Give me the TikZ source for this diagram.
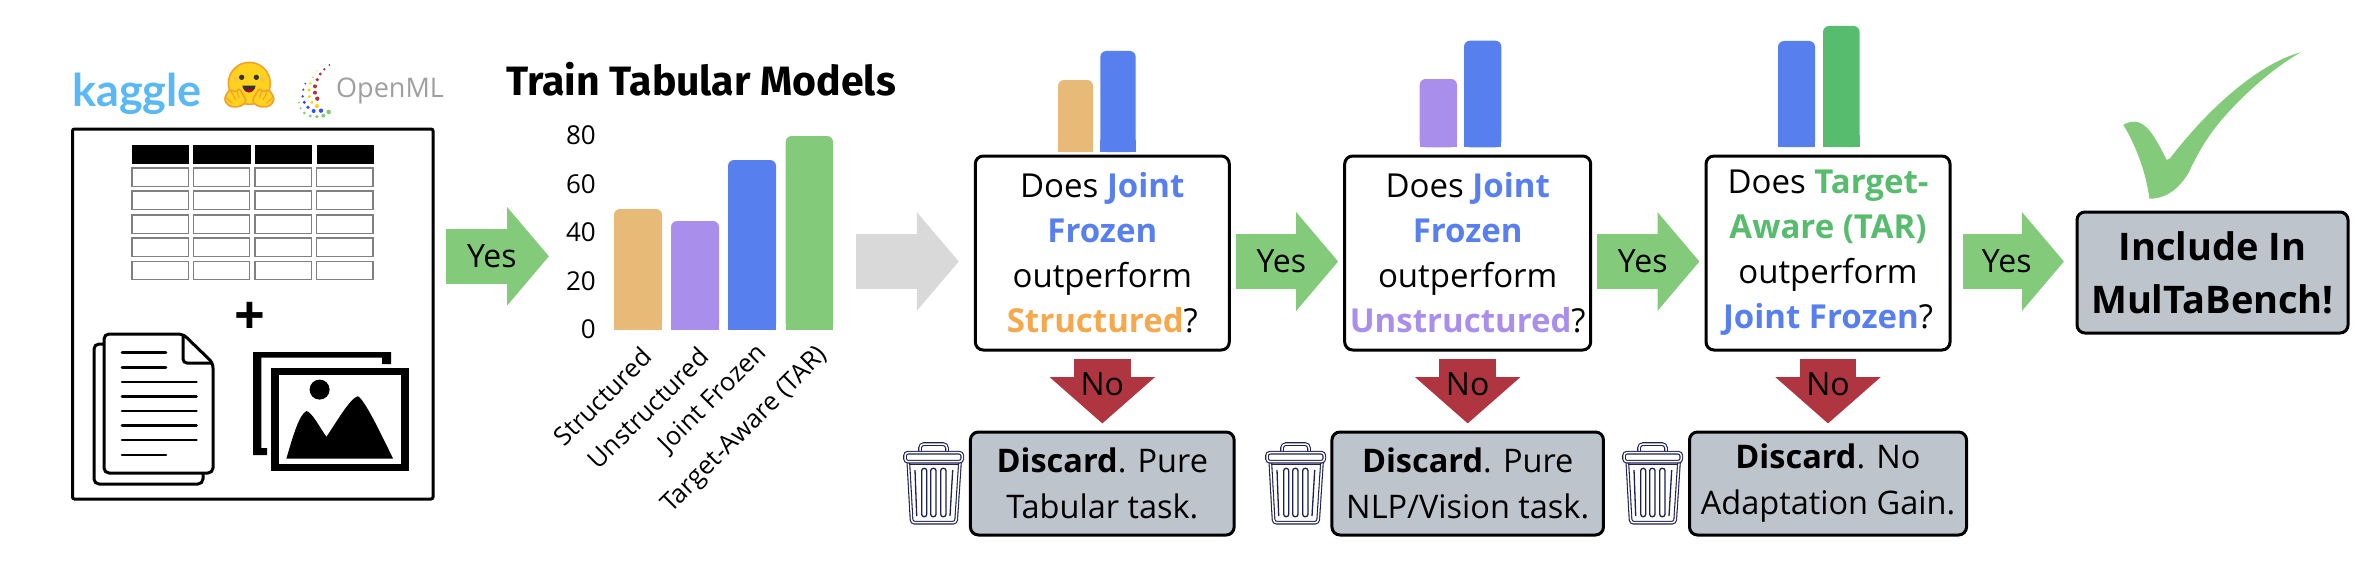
\documentclass[tikz,border=0pt]{standalone}
\usepackage{fontspec}
\setmainfont{Open Sans}
\newfontfamily\titlefont{Fira Sans}
\newfontfamily\kagglefont{Lato}
\usetikzlibrary{arrows.meta}

\definecolor{YesGreen}{HTML}{83CB7B}
\definecolor{TarGreen}{HTML}{57BC6E}
\definecolor{NoRed}{HTML}{AF3640}
\definecolor{FlowGray}{HTML}{D9D9D9}
\definecolor{BoxGray}{HTML}{BDC4CC}
\definecolor{BarOrange}{HTML}{E8BA78}
\definecolor{TextOrange}{HTML}{F5A94C}
\definecolor{BarPurple}{HTML}{A98EEC}
\definecolor{BarBlue}{HTML}{587FEE}
\definecolor{BinNavy}{HTML}{1E2050}
\definecolor{KaggleBlue}{HTML}{5AB8F5}
\definecolor{HugYellow}{HTML}{FFD21E}
\definecolor{HugOrange}{HTML}{F59E2C}

\tikzset{
  qbox/.style={draw=black,line width=3pt,rounded corners=8pt,fill=white,inner sep=0pt,
    minimum height=194pt,align=center,font=\fontsize{33}{45}\selectfont},
  dropbox/.style={draw=black,line width=3pt,rounded corners=8pt,fill=BoxGray,inner sep=0pt,
    minimum height=103pt,align=center,font=\fontsize{32.5}{46}\selectfont},
  yesflow/.style={color=YesGreen,text=black,line width=54.5pt,-{Triangle[length=42pt,width=96.5pt]},
    shorten <=5pt,shorten >=5pt,font=\fontsize{32}{40}\selectfont},
  noflow/.style={color=NoRed,text=black,line width=56.5pt,-{Triangle[length=46.3pt,width=102.5pt]},
    shorten <=7.3pt,shorten >=7pt,font=\fontsize{32}{40}\selectfont},
  tick/.style={anchor=east,inner sep=0pt,font=\fontsize{26}{30}\selectfont},
  barlabel/.style={anchor=east,rotate=45,inner sep=0pt,font=\fontsize{25.5}{28}\selectfont},
  cell/.style={draw=gray,line width=1.2pt,fill=white},
  docline/.style={draw=black,line width=3pt,line join=round,fill=white},
  textline/.style={draw=black,line width=2.6pt,line cap=round},
  binline/.style={draw=BinNavy,line width=1.1pt,double=white,double distance=1.5pt},
  trashbin/.pic={
    \path[binline,rounded corners=4pt] (-14,8.7) -- (-14,0) -- (13,0) -- (13,8.7);
    \path[binline,fill=white,rounded corners=3pt] (-25.7,17.7) -- (-22.3,78.7) -- (22,78.7) -- (26,17.7);
    \path[binline,fill=white,rounded corners=3pt] (-29,8.7) rectangle (28.3,17.7);
    \draw[BinNavy,line width=1.3pt] (-25,20.5) -- (25.3,20.5);
    \draw[BinNavy,line width=1.3pt] (-19,26) -- (-17.3,72) (18.7,26) -- (16,72);
    \draw[BinNavy,line width=1.3pt,rounded corners=2.4pt] (-12.3,24.3) rectangle (-7.3,72.7);
    \draw[BinNavy,line width=1.3pt,rounded corners=2.4pt] (-3.3,24.3) rectangle (2,72.7);
    \draw[BinNavy,line width=1.3pt,rounded corners=2.4pt] (6.7,24.3) rectangle (12,72.7);
  }
}

\newcommand{\chartbar}[5]{\fill[#1,rounded corners=6pt] (#2,#5) rectangle (#3,#4);
  \fill[#1] (#2,#5) rectangle (#3,{#5-12});}

\begin{document}
\begin{tikzpicture}[x=1pt,y=-1pt,node distance=300pt]

  \useasboundingbox (0,0) rectangle (2374,578);

  % sources
  \node[inner sep=0pt,text=KaggleBlue,font=\kagglefont\bfseries\fontsize{45}{50}\selectfont] (Kaggle) at (137,94) {kaggle};
  \node[inner sep=0pt,text=gray!75,anchor=west,font=\fontsize{27}{30}\selectfont] (OpenML) at (336,91) {OpenML};

  \begin{scope}[shift={(215,55)},scale=.3333]
    \foreach \side/\off in {1/0,-1/206} {
      \draw[HugOrange,fill=HugYellow,line width=1.5pt,rounded corners=2pt,shift={(\off,0)},xscale=\side]
        (30,125) -- (45,103) -- (62,112) -- (72,100) -- (88,125) -- (95,140) -- (75,155) -- (45,155) -- (30,140) -- cycle;
    }
    \draw[HugOrange,fill=HugYellow,line width=1.5pt] (103,85) circle (63);
    \foreach \side/\off in {1/0,-1/206} {
      \draw[HugOrange,fill=HugYellow,line width=1.5pt,rounded corners=2pt,shift={(\off,0)},xscale=\side]
        (30,125) -- (45,103) -- (62,112) -- (72,100) -- (88,125) -- (95,140) -- (75,155) -- (45,155) -- (30,140) -- cycle;
      \draw[HugOrange,line width=1pt,shift={(\off,0)},xscale=\side]
        (48,108) -- (62,135) (66,106) -- (72,130) (34,128) -- (52,145);
    }
    \fill[HugOrange!70] (62,72) circle (6) (142,72) circle (6);
    \fill[black!80] (80,67) circle (8) (124,67) circle (8);
    \fill[black!80] (82,92) .. controls (85,118) and (118,118) .. (122,92) -- cycle;
    \fill[red!75!black] (90,107) .. controls (95,114) and (108,114) .. (114,107) .. controls (108,101) and (95,101) .. (90,107) -- cycle;

    \foreach \dx/\dy/\dr in {343/30/3,328/43/4,316/57/5,307/74/5.5,300/94/6,300/113/6,307/131/6.5}
      \fill[NoRed] (\dx,\dy) circle (\dr);
    \foreach \dx/\dy/\dr in {306/47/2,294/67/3,286/85/4,282/105/5,283/125/5,291/142/5,306/153/6}
      \fill[yellow!70!orange] (\dx,\dy) circle (\dr);
    \foreach \dx/\dy/\dr in {271/86/3,265/104/3.5,263/124/4,268/142/5,279/157/5.5,296/168/6,318/167/6.5}
      \fill[BarBlue!60!blue] (\dx,\dy) circle (\dr);
    \foreach \dx/\dy/\dr in {252/143/3,257/160/3.5,268/174/4.5,286/183/5,306/185/5.5,325/182/6,341/171/7}
      \fill[YesGreen] (\dx,\dy) circle (\dr);
  \end{scope}

  % data box
  \node[draw=black,line width=3pt,rounded corners=2pt,minimum width=360.5pt,minimum height=370pt,inner sep=0pt] (DataBox) at (252.75,314) {};

  \foreach \cx in {132,193.3,255,316.5} {
    \fill[black] (\cx,144.5) rectangle ++(57.2,19.2);
    \foreach \cy in {168,191,215,238,261.3}
      \draw[cell] (\cx,\cy) rectangle ++(56.5,18.5);
  }
  \node[inner sep=0pt,font=\bfseries\fontsize{54}{58}\selectfont] (Plus) at (250.4,318) {+};

  % text pages
  \path[docline,rounded corners=5pt] (104,344) -- (94,344) -- (94,484) -- (203,484) -- (203,470);
  \path[docline,rounded corners=5pt] (183,334) -- (104,334) -- (104,473) -- (213,473) -- (213,363) -- cycle;
  \draw[black,line width=3pt,rounded corners=4pt] (183,334) -- (183,363) -- (213,363);
  \foreach \ly in {352.7,454.8} \draw[textline] (122,\ly) -- (166,\ly);
  \draw[textline] (122,367.5) -- (166,367.5);
  \foreach \ly in {382,396.6,411,425.4,440} \draw[textline] (122,\ly) -- (196.5,\ly);

  % image frames
  \fill[black] (253,352) -- (391,352) -- (391,364) -- (382,364) -- (382,357.6) -- (261.4,357.6) -- (261.4,448) -- (267,448) -- (267,455) -- (253,455) -- cycle;
  \fill[black] (271,367.5) rectangle (409,471);
  \fill[white] (279,374.5) rectangle (400.7,463.7);
  \fill[black] (319.6,389.6) circle (10);
  \fill[black] (286.4,458.5) .. controls (293,436) and (299,415) .. (306.4,411) .. controls (312,412) and (320,428) .. (326.4,436.8)
    .. controls (336,423) and (350,398) .. (357.9,396.2) .. controls (365,400) and (382,436) .. (393,458.5) -- cycle;

  % bar chart
  \node[inner sep=0pt,font=\titlefont\bfseries\fontsize{41}{44}\selectfont] (TrainTitle) at (701,79) {Train Tabular Models};
  \foreach \val/\ty in {80/135.7,60/184,40/232,20/281,0/329}
    \node[tick] (Tick\val) at (596,\ty) {\val};
  \chartbar{BarOrange}{614}{662}{209}{329.7}
  \chartbar{BarPurple}{671}{719}{221}{329.7}
  \chartbar{BarBlue}{728}{776}{160}{329.7}
  \chartbar{YesGreen}{785.7}{833}{136}{329.7}
  \node[barlabel] (LabelS) at (647,352) {Structured};
  \node[barlabel] (LabelU) at (704,352) {Unstructured};
  \node[barlabel] (LabelJ) at (763,349) {Joint Frozen};
  \node[barlabel] (LabelT) at (824,352) {Target-Aware (TAR)};
  \coordinate (ChartIn) at (554,256.3);
  \coordinate (ChartOut) at (851,261.5);

  % questions
  \node[qbox,minimum width=254pt] (QStruct) at (1102.3,253) {Does {\bfseries\color{BarBlue}Joint}\\{\bfseries\color{BarBlue}Frozen}\\outperform\\{\bfseries\color{TextOrange}Structured}?};
  \node[qbox,minimum width=246pt,node distance=365.4pt] (QUnstruct) [right of=QStruct] {Does {\bfseries\color{BarBlue}Joint}\\{\bfseries\color{BarBlue}Frozen}\\outperform\\{\bfseries\color{BarPurple}Unstructured}?};
  \node[qbox,minimum width=244pt,node distance=360.3pt] (QTar) [right of=QUnstruct] {Does {\bfseries\color{TarGreen}Target-}\\{\bfseries\color{TarGreen}Aware (TAR)}\\outperform\\{\bfseries\color{BarBlue}Joint Frozen}?};
  \node[draw=black,line width=3pt,rounded corners=8pt,fill=BoxGray,inner sep=0pt,minimum width=271pt,minimum height=121pt,align=center,
    font=\bfseries\fontsize{38}{53}\selectfont] (Include) at (2212.5,272.5) {Include In\\MulTaBench!};

  \node[dropbox,minimum width=263.7pt,node distance=230.5pt] (DropStruct) [below of=QStruct] {{\bfseries Discard}. Pure\\Tabular task.};
  \node[dropbox,minimum width=271.5pt,node distance=230.5pt] (DropUnstruct) [below of=QUnstruct] {{\bfseries Discard}. Pure\\NLP/Vision task.};
  \node[dropbox,minimum width=277pt,node distance=230.5pt] (DropTar) [below of=QTar] {{\bfseries Discard}. No\\Adaptation Gain.};

  \pic at (934,444) {trashbin};
  \pic at (1296,444) {trashbin};
  \pic at (1653,444) {trashbin};

  % small bars over the questions
  \chartbar{BarOrange}{1058}{1093}{80}{152}
  \chartbar{BarBlue}{1100.3}{1135.7}{51}{152}
  \chartbar{BarPurple}{1419.7}{1457}{79}{147.3}
  \chartbar{BarBlue}{1464}{1501.3}{40.7}{147.3}
  \chartbar{BarBlue}{1778}{1815}{41}{147}
  \chartbar{TarGreen}{1823}{1859.6}{26}{147}

  % tick
  \fill[YesGreen] (2300.7,52.3) .. controls (2264,62) and (2215,100) .. (2170,158.3) -- (2166.7,160)
    .. controls (2158,143) and (2148,122) .. (2135,121.7) .. controls (2130,121.7) and (2126,123) .. (2123.3,125)
    .. controls (2133,140) and (2146,170) .. (2149.3,198.7)
    .. controls (2165,199) and (2178,190) .. (2188.3,173.3) .. controls (2197,155) and (2205,140) .. (2220,121.7)
    .. controls (2240,98) and (2270,70) .. (2300.7,52.3) -- cycle;

  \coordinate (QStructOut) at ([yshift=-8.5pt]QStruct.east);
  \coordinate (QUnstructOut) at ([yshift=-8.5pt]QUnstruct.east);
  \coordinate (QTarOut) at ([yshift=-8.5pt]QTar.east);
  \coordinate (IncludeIn) at ([xshift=-6.5pt]Include.west |- QTarOut);
  \coordinate (FlowEnd) at ([xshift=-10pt]QStruct.west |- ChartOut);

 \path[yesflow]
 (DataBox.east |- ChartIn)
	 edge [shorten <=11pt] node (YesData) [pos=.48] {Yes} (ChartIn)
 (QStructOut)
	 edge node (YesStruct) [pos=.45] {Yes} (QUnstruct.west |- QStructOut)
 (QUnstructOut)
	 edge node (YesUnstruct) [pos=.45] {Yes} (QTar.west |- QUnstructOut)
 (QTarOut)
	 edge [shorten <=11pt] node (YesTar) [pos=.47] {Yes} (IncludeIn)
; % end of \path

 \path[yesflow,color=FlowGray]
 (ChartOut)
	 edge (FlowEnd)
;

 \path[noflow]
 (QStruct) edge node (NoStruct) [pos=.42] {No} (DropStruct)
 (QUnstruct) edge node (NoUnstruct) [pos=.42] {No} (DropUnstruct)
 (QTar) edge node (NoTar) [pos=.42] {No} (DropTar)
;
\end{tikzpicture}
\end{document}
